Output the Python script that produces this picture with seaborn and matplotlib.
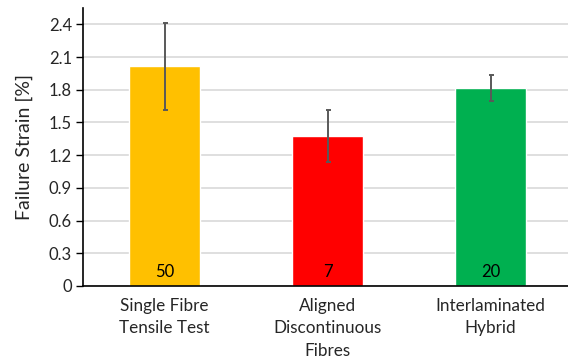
import matplotlib
matplotlib.use("Agg")
import matplotlib.pyplot as plt
import seaborn as sns
import pandas as pd
import numpy as np

categories = ["Single Fibre\nTensile Test", "Aligned\nDiscontinuous\nFibres", "Interlaminated\nHybrid"]
values = [2.015, 1.375, 1.815]
errors = [0.40, 0.235, 0.12]
counts = ["50", "7", "20"]
colors = ["#FFC000", "#FF0000", "#00B050"]
yticks = [0, 0.3, 0.6, 0.9, 1.2, 1.5, 1.8, 2.1, 2.4]
ytick_labels = ["0", "0.3", "0.6", "0.9", "1.2", "1.5", "1.8", "2.1", "2.4"]

sns.set_style("white")
plt.rcParams['font.family'] = ['Lato', 'DejaVu Sans']

df = pd.DataFrame({"cat": categories, "val": values})

fig = plt.figure(figsize=(5.68, 3.63), dpi=100)
ax = fig.add_axes([83/568, 77/363, 489/568, 278/363])

sns.barplot(data=df, x="cat", y="val", hue="cat", palette=colors, legend=False,
            errorbar=None, width=0.44, saturation=1, ax=ax, zorder=2)
ax.errorbar(np.arange(len(categories)), values, yerr=errors, fmt="none",
            ecolor="#595959", elinewidth=1.4, capsize=1.8, capthick=1.4, zorder=3)

for i, c in enumerate(counts):
    ax.text(i, 0.13, c, ha="center", va="center", fontsize=12, color="black", zorder=4)

ax.set_xlim(-0.5, 2.5)
ax.set_ylim(0, 2.55)
ax.set_yticks(yticks)
ax.set_yticklabels(ytick_labels, fontsize=12)
ax.yaxis.grid(True, color="#D9D9D9", linewidth=1.2, zorder=0)
ax.set_axisbelow(True)
ax.tick_params(axis="y", which="both", left=True, length=5, width=1, color="black", pad=3)
ax.tick_params(axis="x", bottom=False, pad=5)
for lbl in ax.get_xticklabels():
    lbl.set_fontsize(12.3)
    lbl.set_linespacing(1.5)
ax.set_xlabel("")
ax.set_ylabel("Failure Strain [%]", fontsize=14, labelpad=11)
for s in ["top", "right"]:
    ax.spines[s].set_visible(False)
ax.spines["left"].set_color("black")
ax.spines["bottom"].set_color("black")
ax.spines["left"].set_linewidth(1.2)
ax.spines["bottom"].set_linewidth(1.2)

fig.savefig("out.png", dpi=100)
